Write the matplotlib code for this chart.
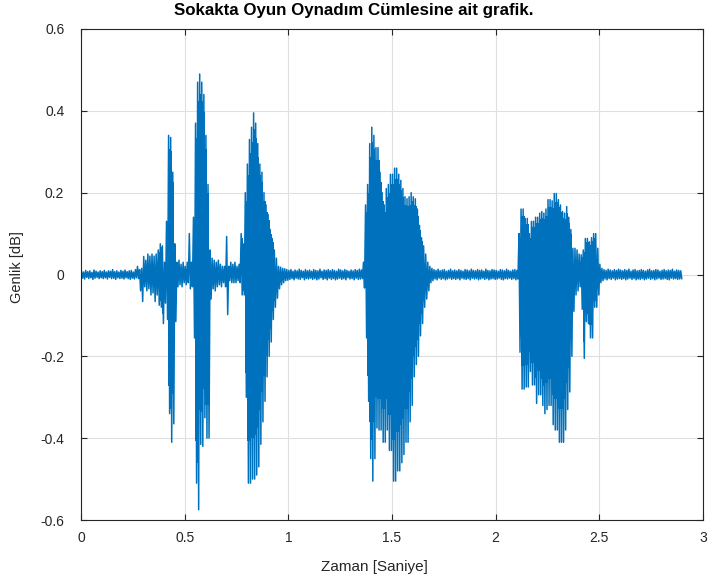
import numpy as np
import matplotlib
matplotlib.use("Agg")
import matplotlib.pyplot as plt

# Waveform: per 10 ms bin, the highest and lowest amplitude
bin_width = 0.01
upper = [
    0.008,0.006,0.010,0.007,0.009,0.005,0.011,0.008,0.006,0.009,
    0.007,0.010,0.006,0.009,0.008,0.012,0.007,0.009,0.006,0.010,
    0.008,0.011,0.007,0.009,0.010,0.006,0.012,0.020,0.012,0.015,
    0.044,0.035,0.050,0.045,0.050,0.045,0.050,0.060,0.075,0.070,
    0.030,0.130,0.340,0.335,0.250,0.075,0.030,0.035,0.025,0.030,
    0.020,0.030,0.100,0.030,0.140,0.370,0.470,0.490,0.470,0.440,
    0.340,0.220,0.060,0.040,0.035,0.030,0.035,0.025,0.020,0.020,
    0.093,0.020,0.030,0.025,0.030,0.020,0.025,0.100,0.075,0.200,
    0.270,0.330,0.360,0.395,0.370,0.320,0.270,0.250,0.200,0.170,
    0.147,0.110,0.088,0.060,0.040,0.020,0.018,0.015,0.014,0.012,
    0.010,0.012,0.008,0.011,0.009,0.013,0.010,0.008,0.012,0.009,
    0.011,0.008,0.012,0.010,0.009,0.013,0.008,0.011,0.010,0.012,
    0.009,0.012,0.010,0.008,0.013,0.011,0.009,0.012,0.010,0.008,
    0.011,0.009,0.012,0.010,0.013,0.011,0.030,0.170,0.220,0.320,
    0.360,0.340,0.310,0.310,0.250,0.200,0.170,0.210,0.220,0.245,
    0.245,0.260,0.260,0.245,0.230,0.210,0.190,0.185,0.190,0.200,
    0.190,0.185,0.160,0.120,0.090,0.070,0.050,0.030,0.020,0.015,
    0.012,0.010,0.013,0.009,0.011,0.012,0.008,0.010,0.013,0.009,
    0.011,0.009,0.012,0.010,0.008,0.012,0.011,0.009,0.013,0.010,
    0.009,0.012,0.010,0.011,0.008,0.013,0.010,0.009,0.012,0.011,
    0.010,0.008,0.012,0.011,0.009,0.013,0.010,0.008,0.011,0.012,
    0.010,0.100,0.160,0.160,0.137,0.137,0.100,0.130,0.130,0.140,
    0.140,0.150,0.154,0.150,0.160,0.183,0.183,0.180,0.198,0.198,
    0.183,0.170,0.154,0.150,0.166,0.140,0.110,0.064,0.064,0.060,
    0.050,0.048,0.060,0.088,0.088,0.080,0.090,0.100,0.100,0.064,
    0.025,0.015,0.012,0.010,0.013,0.011,0.009,0.012,0.010,0.013,
    0.011,0.009,0.012,0.010,0.013,0.008,0.011,0.012,0.009,0.010,
    0.012,0.010,0.008,0.011,0.013,0.009,0.010,0.012,0.011,0.008,
    0.010,0.012,0.009,0.011,0.010,0.013,0.008,0.011,0.010,0.009,
]
lower = [
    -0.009,-0.011,-0.007,-0.010,-0.008,-0.012,-0.009,-0.007,-0.010,-0.008,
    -0.010,-0.008,-0.011,-0.007,-0.010,-0.009,-0.012,-0.008,-0.010,-0.009,
    -0.011,-0.008,-0.010,-0.012,-0.009,-0.011,-0.008,-0.010,-0.040,-0.066,
    -0.030,-0.040,-0.035,-0.050,-0.045,-0.066,-0.050,-0.075,-0.080,-0.120,
    -0.070,-0.110,-0.340,-0.410,-0.365,-0.115,-0.030,-0.025,-0.030,-0.020,
    -0.025,-0.020,-0.035,-0.030,-0.155,-0.510,-0.575,-0.415,-0.420,-0.350,
    -0.400,-0.400,-0.060,-0.035,-0.040,-0.030,-0.025,-0.030,-0.020,-0.030,
    -0.098,-0.015,-0.020,-0.020,-0.020,-0.015,-0.020,-0.050,-0.050,-0.300,
    -0.510,-0.510,-0.500,-0.500,-0.490,-0.470,-0.415,-0.360,-0.310,-0.250,
    -0.200,-0.165,-0.110,-0.080,-0.058,-0.035,-0.025,-0.020,-0.015,-0.014,
    -0.012,-0.010,-0.013,-0.009,-0.011,-0.012,-0.008,-0.013,-0.010,-0.011,
    -0.009,-0.012,-0.010,-0.013,-0.011,-0.008,-0.012,-0.010,-0.013,-0.009,
    -0.012,-0.010,-0.013,-0.011,-0.009,-0.012,-0.010,-0.013,-0.008,-0.011,
    -0.010,-0.013,-0.009,-0.012,-0.011,-0.010,-0.033,-0.155,-0.310,-0.450,
    -0.505,-0.450,-0.375,-0.380,-0.380,-0.410,-0.410,-0.380,-0.430,-0.430,
    -0.505,-0.505,-0.480,-0.480,-0.460,-0.440,-0.410,-0.410,-0.360,-0.320,
    -0.250,-0.220,-0.200,-0.150,-0.120,-0.080,-0.060,-0.040,-0.020,-0.015,
    -0.011,-0.013,-0.009,-0.012,-0.010,-0.013,-0.011,-0.009,-0.012,-0.010,
    -0.012,-0.010,-0.013,-0.009,-0.011,-0.012,-0.010,-0.013,-0.009,-0.011,
    -0.010,-0.013,-0.011,-0.009,-0.012,-0.010,-0.013,-0.011,-0.010,-0.012,
    -0.011,-0.009,-0.012,-0.013,-0.010,-0.011,-0.009,-0.012,-0.010,-0.013,
    -0.011,-0.190,-0.280,-0.280,-0.275,-0.275,-0.237,-0.270,-0.270,-0.315,
    -0.294,-0.294,-0.320,-0.340,-0.330,-0.320,-0.320,-0.367,-0.380,-0.380,
    -0.410,-0.410,-0.410,-0.380,-0.330,-0.287,-0.200,-0.090,-0.050,-0.040,
    -0.030,-0.085,-0.205,-0.115,-0.120,-0.155,-0.155,-0.080,-0.080,-0.050,
    -0.020,-0.015,-0.011,-0.013,-0.010,-0.012,-0.009,-0.013,-0.011,-0.010,
    -0.012,-0.010,-0.013,-0.011,-0.009,-0.012,-0.010,-0.013,-0.011,-0.012,
    -0.010,-0.013,-0.011,-0.009,-0.012,-0.010,-0.013,-0.011,-0.009,-0.012,
    -0.011,-0.010,-0.012,-0.013,-0.009,-0.011,-0.010,-0.012,-0.011,-0.010,
]
x_ticks = [0, 0.5, 1, 1.5, 2, 2.5, 3]
x_tick_labels = ["0", "0.5", "1", "1.5", "2", "2.5", "3"]
y_ticks = [-0.6, -0.4, -0.2, 0, 0.2, 0.4, 0.6]
y_tick_labels = ["-0.6", "-0.4", "-0.2", "0", "0.2", "0.4", "0.6"]
title = "Sokakta Oyun Oynadım Cümlesine ait grafik."
x_label = "Zaman [Saniye]"
y_label = "Genlik [dB]"

plt.rcParams['font.family'] = ['Liberation Sans', 'DejaVu Sans']

blue = "#0072BD"
n = len(upper)
starts = np.arange(n) * bin_width
up = np.array(upper)
lo = np.array(lower)
t = np.empty(2 * n)
y = np.empty(2 * n)
t[0::2] = starts + bin_width * 0.25
t[1::2] = starts + bin_width * 0.75
y[0::2] = up
y[1::2] = lo

fig = plt.figure(figsize=(7.08, 5.85), dpi=100)
ax = fig.add_axes([81/708, 1 - 520/585, (703 - 81)/708, (520 - 29)/585])
# dense core of the loud parts (thinner than the full envelope, as in the trace)
centers = starts + bin_width * 0.5
loud = (up - lo) > 0.12
ax.fill_between(centers, lo * 0.8, up * 0.9, where=loud, step="mid",
                color=blue, linewidth=0)
ax.plot(t, y, color=blue, linewidth=1.1)

ax.set_xlim(0, 3)
ax.set_ylim(-0.6, 0.6)
ax.set_xticks(x_ticks)
ax.set_xticklabels(x_tick_labels)
ax.set_yticks(y_ticks)
ax.set_yticklabels(y_tick_labels)
ax.grid(True, color="#DFDFDF", linewidth=0.8)
ax.set_axisbelow(True)
for s in ax.spines.values():
    s.set_color("#262626")
    s.set_linewidth(0.8)
ax.tick_params(direction="in", length=4, width=0.8, colors="#262626",
               labelsize=10, top=True, right=True, pad=8)
ax.tick_params(axis="y", pad=12)

fig.text(0.5, 1 - 10/585, title, ha="center", va="center",
         fontsize=12.2, fontweight="bold", color="black")
fig.text(374/708, 1 - 567/585, x_label, ha="center", va="center",
         fontsize=11, color="#262626")
fig.text(17/708, 1 - 267/585, y_label, ha="center", va="center",
         rotation=90, fontsize=10.5, color="#262626")

fig.savefig("out.png", dpi=100)
